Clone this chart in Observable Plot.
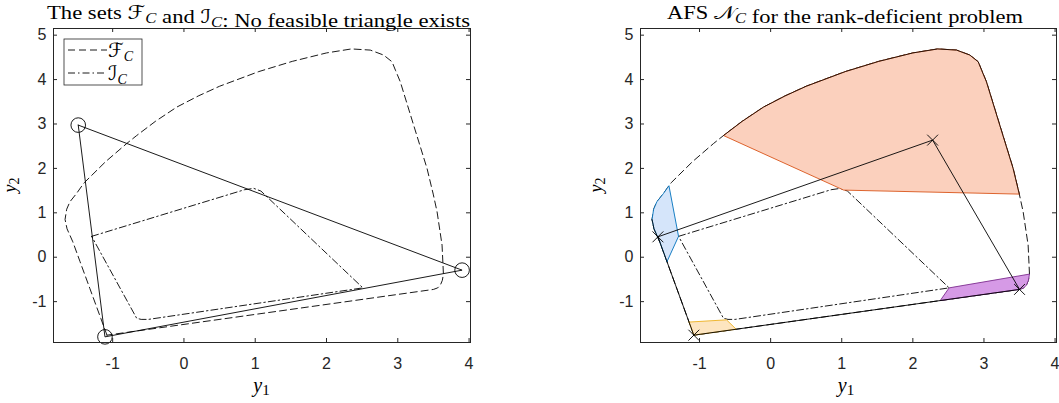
<!DOCTYPE html>
<html><head><meta charset="utf-8">
<script src="https://cdn.jsdelivr.net/npm/d3@7"></script>
<script src="https://cdn.jsdelivr.net/npm/@observablehq/plot@0.6"></script>
<style>
html,body{margin:0;padding:0;background:#fff;}
#wrap{position:relative;width:1059px;height:403px;overflow:hidden;}
#wrap > div{position:absolute;top:0;}
#overlay{position:absolute;left:0;top:0;pointer-events:none;}
</style></head>
<body><div id="wrap"><div id="p1" style="left:0"></div><div id="p2" style="left:530px"></div></div>
<script>
// ---------- data ----------
const xDomain = [-1.83, 4.02];
const yDomain = [-1.92, 5.15];
const xTicks = [-1, 0, 1, 2, 3, 4];
const yTicks = [-1, 0, 1, 2, 3, 4, 5];

// boundary of F_C (closed loop)
const FC_y1 = [-1.080,-1.166,-1.320,-1.440,-1.4575,-1.559,-1.640,-1.668,-1.645,-1.600,-1.506,-1.430,-1.397,-1.100,-0.803,-0.663,-0.400,-0.101,0.200,0.500,1.050,1.520,2.000,2.350,2.614,2.801,2.919,2.970,3.035,3.222,3.410,3.497,3.551,3.621,3.640,3.625,3.597,3.560,3.500,2.385,-1.080];
const FC_y2 = [-1.755,-1.378,-0.703,-0.178,-0.100,0.347,0.640,0.850,1.080,1.248,1.437,1.610,1.680,2.150,2.560,2.740,3.060,3.380,3.630,3.850,4.180,4.410,4.600,4.690,4.664,4.552,4.401,4.200,3.950,2.975,2.000,1.421,1.023,0.273,-0.380,-0.520,-0.628,-0.690,-0.725,-0.976,-1.755];

// boundary of I_C (closed loop)
const IC_y1 = [-1.295,0.850,0.980,1.080,2.510,-0.500,-0.600,-0.663,-1.295];
const IC_y2 = [0.470,1.520,1.550,1.490,-0.690,-1.400,-1.400,-1.375,0.470];

// left panel: triangle vertices (circles)
const tri_y1 = [-1.483, -1.108, 3.902];
const tri_y2 = [2.975, -1.793, -0.291];

// right panel: AFS vertices (crosses)
const quad_y1 = [-1.585, 2.278, 3.500, -1.080];
const quad_y2 = [0.459, 2.637, -0.725, -1.755];

// AFS segments: arcs of F_C given by their end values, plus inner vertices
const orangeArc = [-0.663, 3.497];      // y1 of arc start/end on F_C
const orangeInner_y1 = [1.028], orangeInner_y2 = [1.511];
const blueArc = [-1.4575, -1.430];
const blueBlackArc = [-1.559, -1.668];
const blueInner_y1 = [-1.295], blueInner_y2 = [0.470];
const purple_y1 = [2.385, 2.510, 3.640, 3.625, 3.597, 3.560, 3.500];
const purple_y2 = [-0.976, -0.690, -0.380, -0.520, -0.628, -0.690, -0.725];
const yellow_y1 = [-1.147, -0.620, -0.485, -1.080];
const yellow_y2 = [-1.460, -1.410, -1.621, -1.755];

// ---------- helpers ----------
const pts = (a, b) => a.map((v, i) => ({y1: v, y2: b[i]}));
const close = p => p.concat([p[0]]);
const FC = pts(FC_y1, FC_y2);
const IC = pts(IC_y1, IC_y2);
const arc = ([a, b]) => FC.slice(FC_y1.indexOf(a), FC_y1.indexOf(b) + 1);
const orangeArcPts = arc(orangeArc);
const orange = close(orangeArcPts.concat(pts(orangeInner_y1, orangeInner_y2)));
const blueArcPts = arc(blueArc);
const blue = close(blueArcPts.concat(pts(blueInner_y1, blueInner_y2)));
const blueBlack = arc(blueBlackArc);
const purple = close(pts(purple_y1, purple_y2));
const yellow = close(pts(yellow_y1, yellow_y2));
const tri = pts(tri_y1, tri_y2);
const quad = pts(quad_y1, quad_y2);

const H = 403, MT = 28, MB = 61, ink = "#262626";
const DASH = "7,4", DASHDOT = "7,3,1.5,3", LW = 0.9;

function panel({width, marginLeft, marginRight, marks}) {
  const fw = width - marginLeft - marginRight, fh = H - MT - MB, tl = 4;
  return Plot.plot({
    width, height: H, marginLeft, marginRight, marginTop: MT, marginBottom: MB,
    x: {domain: xDomain}, y: {domain: yDomain},
    style: {fontFamily: "'Liberation Sans', Arial, Helvetica, sans-serif", fontSize: "16px", color: ink, background: "transparent", overflow: "visible"},
    marks: [
      ...marks,
      Plot.frame({stroke: ink, strokeWidth: 1}),
      Plot.tickX(xTicks, {x: d => d, insetTop: fh - tl, stroke: ink}),
      Plot.tickX(xTicks, {x: d => d, insetBottom: fh - tl, stroke: ink}),
      Plot.tickY(yTicks, {y: d => d, insetRight: fw - tl, stroke: ink}),
      Plot.tickY(yTicks, {y: d => d, insetLeft: fw - tl, stroke: ink}),
      Plot.axisX(xTicks, {anchor: "bottom", tickSize: 0, tickPadding: 15, tickFormat: d => String(d), label: null}),
      Plot.axisY(yTicks, {anchor: "left", tickSize: 0, tickPadding: 7, tickFormat: d => String(d), label: null})
    ]
  });
}

const line = (data, o = {}) => Plot.line(data, {x: "y1", y: "y2", stroke: "black", strokeWidth: LW, ...o});

document.getElementById("p1").append(panel({
  width: 530, marginLeft: 53, marginRight: 60,
  marks: [
    line(FC, {strokeDasharray: DASH}),
    line(IC, {strokeDasharray: DASHDOT}),
    line(close(tri)),
    Plot.dot(tri, {x: "y1", y: "y2", r: 7.3, stroke: "black", fill: "none", strokeWidth: LW})
  ]
}));

document.getElementById("p2").append(panel({
  width: 529, marginLeft: 110, marginRight: 3,
  marks: [
    line(FC, {strokeDasharray: DASH}),
    line(IC, {strokeDasharray: DASHDOT}),
    line(orange, {fill: "#fbd0bd", stroke: "#d95319"}),
    line(blue, {fill: "#d5e5fa", stroke: "#0072bd"}),
    line(yellow, {fill: "#fde5c0", stroke: "#edb120"}),
    line(purple, {fill: "#d69ae6", stroke: "#7e2f8e"}),
    line(orangeArcPts, {strokeWidth: 0.8}),
    line(blueBlack, {strokeWidth: 0.8}),
    line(close(quad)),
    Plot.dot(quad, {x: "y1", y: "y2", r: 5, symbol: "times", stroke: "black", strokeWidth: LW})
  ]
}));

// ---------- text overlay: titles, axis labels, legend ----------
const serif = "'Liberation Serif','Times New Roman',serif";
const scr = "'DejaVu Serif','DejaVu Sans',serif";
const sub = (t) => `<tspan dy="4" font-size="14" font-style="italic">${t}</tspan><tspan dy="-4"></tspan>`;
const ov = `
<svg id="overlay" width="1059" height="403" xmlns="http://www.w3.org/2000/svg" font-family="${serif}" fill="#000">
  <text x="258.5" y="18.5" font-size="19" text-anchor="middle" textLength="423" lengthAdjust="spacingAndGlyphs">The sets <tspan font-family="${scr}">ℱ</tspan>${sub("C")} and <tspan font-family="${scr}">ℐ</tspan>${sub("C")}: No feasible triangle exists</text>
  <text x="845" y="18.5" font-size="19" text-anchor="middle" textLength="356" lengthAdjust="spacingAndGlyphs">AFS <tspan font-family="${scr}">𝒩</tspan>${sub("C")} for the rank-deficient problem</text>
  <text x="261.5" y="392" font-size="20" text-anchor="middle"><tspan font-style="italic">y</tspan><tspan dy="3" font-size="15">1</tspan></text>
  <text x="846" y="392" font-size="20" text-anchor="middle"><tspan font-style="italic">y</tspan><tspan dy="3" font-size="15">1</tspan></text>
  <text transform="translate(16,185) rotate(-90)" font-size="18" text-anchor="middle"><tspan font-style="italic">y</tspan><tspan dy="3" font-size="14">2</tspan></text>
  <text transform="translate(602,185) rotate(-90)" font-size="18" text-anchor="middle"><tspan font-style="italic">y</tspan><tspan dy="3" font-size="14">2</tspan></text>
  <rect x="64" y="39" width="78" height="46" fill="#fff" stroke="${ink}" stroke-width="0.8"/>
  <line x1="68" y1="50" x2="107" y2="50" stroke="#000" stroke-width="${LW}" stroke-dasharray="${DASH}"/>
  <line x1="68" y1="73" x2="107" y2="73" stroke="#000" stroke-width="${LW}" stroke-dasharray="${DASHDOT}"/>
  <text x="108" y="57" font-size="20"><tspan font-family="${scr}">ℱ</tspan>${sub("C")}</text>
  <text x="108" y="80" font-size="20"><tspan font-family="${scr}">ℐ</tspan>${sub("C")}</text>
</svg>`;
document.getElementById("wrap").insertAdjacentHTML("beforeend", ov);
</script>
</body></html>
